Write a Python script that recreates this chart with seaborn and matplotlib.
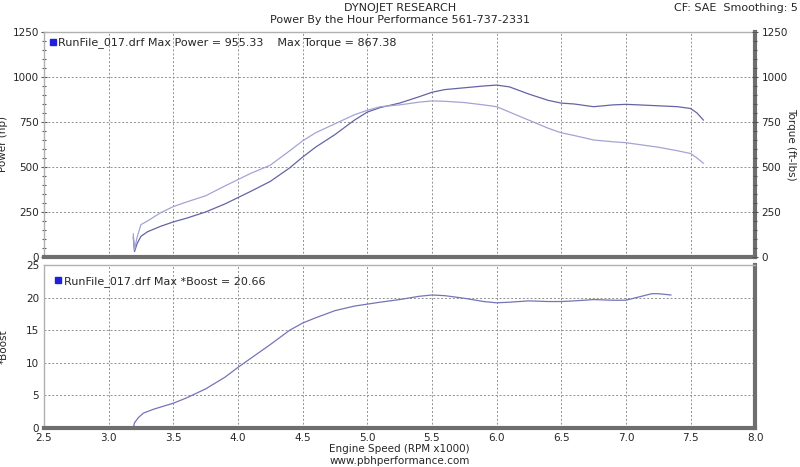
import matplotlib
matplotlib.use("Agg")
import matplotlib.pyplot as plt
from matplotlib.lines import Line2D
from matplotlib.ticker import MultipleLocator
import seaborn as sns
import pandas as pd

# engine speed (RPM x1000) shared by power and torque traces
rpm = [3.19, 3.20, 3.22, 3.25, 3.30, 3.40, 3.50, 3.60, 3.75, 3.90, 4.00, 4.10, 4.25,
       4.40, 4.50, 4.60, 4.75, 4.90, 5.00, 5.10, 5.25, 5.40, 5.50, 5.60, 5.75, 5.90,
       6.00, 6.10, 6.25, 6.40, 6.50, 6.60, 6.75, 6.90, 7.00, 7.10, 7.25, 7.40, 7.50,
       7.55, 7.60]
power_hp = [110, 30, 75, 115, 140, 170, 195, 215, 250, 295, 330, 365, 420,
            495, 555, 610, 680, 760, 805, 830, 855, 890, 915, 930, 940, 950,
            955, 945, 905, 870, 855, 850, 835, 845, 848, 845, 840, 835, 825,
            800, 760]
torque_ftlb = [130, 40, 110, 180, 200, 245, 280, 305, 340, 395, 430, 465, 510,
               590, 645, 690, 740, 790, 815, 835, 845, 860, 867, 865, 858, 845,
               835, 805, 760, 715, 690, 675, 650, 640, 635, 625, 610, 590, 575,
               550, 520]

boost_rpm = [3.19, 3.20, 3.23, 3.27, 3.35, 3.50, 3.60, 3.75, 3.90, 4.00, 4.10, 4.25,
             4.40, 4.50, 4.60, 4.75, 4.90, 5.00, 5.10, 5.25, 5.40, 5.50, 5.60, 5.75,
             5.90, 6.00, 6.10, 6.25, 6.40, 6.50, 6.60, 6.75, 6.90, 7.00, 7.10, 7.20,
             7.25, 7.35]
boost = [0, 0.8, 1.6, 2.3, 2.9, 3.8, 4.6, 6.0, 7.8, 9.3, 10.7, 12.8,
         15.0, 16.1, 16.9, 18.0, 18.7, 19.0, 19.3, 19.7, 20.2, 20.4, 20.3, 19.9,
         19.4, 19.2, 19.3, 19.5, 19.4, 19.4, 19.5, 19.7, 19.6, 19.6, 20.1, 20.6,
         20.6, 20.4]

df_top = pd.DataFrame({"rpm": rpm, "power": power_hp, "torque": torque_ftlb})
df_boost = pd.DataFrame({"rpm": boost_rpm, "boost": boost})

sns.set_style("white")
plt.rcParams["font.family"] = ["DejaVu Sans"]
plt.rcParams["font.size"] = 8

fig = plt.figure(figsize=(8, 4.67), dpi=100)
ax1 = fig.add_axes([0.055, 0.4497, 0.889, 0.4818])
ax2 = fig.add_axes([0.055, 0.0835, 0.889, 0.349], sharex=ax1)

power_col = "#6464a4"
torque_col = "#a4a4d4"
boost_col = "#7474b8"

sns.lineplot(data=df_top, x="rpm", y="power", color=power_col, linewidth=0.9, ax=ax1)
sns.lineplot(data=df_top, x="rpm", y="torque", color=torque_col, linewidth=0.9, ax=ax1)
sns.lineplot(data=df_boost, x="rpm", y="boost", color=boost_col, linewidth=0.9, ax=ax2)

for ax in (ax1, ax2):
    ax.set_xlim(2.5, 8.0)
    ax.xaxis.set_major_locator(MultipleLocator(0.5))
    ax.xaxis.set_minor_locator(MultipleLocator(0.1))
    ax.grid(True, which="major", linestyle=(0, (2, 2)), color="#909090", linewidth=0.7)
    for s in ("top", "left"):
        ax.spines[s].set_color("#b0b0b0")
        ax.spines[s].set_linewidth(1)
    for s in ("bottom", "right"):
        ax.spines[s].set_color("#6e6e6e")
        ax.spines[s].set_linewidth(3)
    ax.tick_params(which="both", direction="inout", length=5, width=0.8, color="#555555",
                   labelsize=7.5, pad=1)
    ax.tick_params(which="minor", length=3)

ax1.set_ylim(0, 1250)
ax1.yaxis.set_major_locator(MultipleLocator(250))
ax1.yaxis.set_minor_locator(MultipleLocator(50))
ax1.set_ylabel("Power (hp)", fontsize=7.5)
ax1.yaxis.set_label_coords(-0.05, 0.5)
ax1.set_xlabel("")
ax1.tick_params(axis="x", which="both", labelbottom=False, bottom=False)

ax1r = ax1.twinx()
ax1r.set_ylim(0, 1250)
ax1r.yaxis.set_major_locator(MultipleLocator(250))
ax1r.yaxis.set_minor_locator(MultipleLocator(50))
ax1r.set_ylabel("Torque (ft-lbs)", rotation=-90, fontsize=7.5, va="center")
ax1r.yaxis.set_label_coords(1.05, 0.5)
ax1r.tick_params(which="both", direction="inout", length=5, width=0.8, color="#555555",
                 labelsize=7.5, pad=2)
ax1r.tick_params(which="minor", length=3)
for s in ax1r.spines.values():
    s.set_visible(False)

ax2.set_ylim(0, 25)
ax2.yaxis.set_major_locator(MultipleLocator(5))
ax2.yaxis.set_minor_locator(MultipleLocator(1))
ax2.set_ylabel("*Boost", fontsize=7.5)
ax2.yaxis.set_label_coords(-0.05, 0.5)
ax2.set_xlabel("Engine Speed (RPM x1000)", fontsize=7.5, labelpad=1)

square = Line2D([], [], marker="s", color="#2020d8", linestyle="none", markersize=5)
ax1.legend([square], ["RunFile_017.drf Max Power = 955.33    Max Torque = 867.38"],
           loc="upper left", frameon=False, handlelength=0.6, handletextpad=0.2,
           borderaxespad=0.3, borderpad=0.2, fontsize=8)
ax2.legend([square], ["RunFile_017.drf Max *Boost = 20.66"],
           loc="upper left", frameon=False, handlelength=0.6, handletextpad=0.2,
           borderaxespad=0.6, borderpad=0.4, fontsize=8)

fig.text(0.5, 0.983, "DYNOJET RESEARCH", ha="center", va="center", fontsize=8)
fig.text(0.5, 0.957, "Power By the Hour Performance 561-737-2331", ha="center",
         va="center", fontsize=8)
fig.text(0.997, 0.983, "CF: SAE  Smoothing: 5", ha="right", va="center", fontsize=8)
fig.text(0.5, 0.012, "www.pbhperformance.com", ha="center", va="center", fontsize=7.5)

fig.savefig("out.png", dpi=100)
